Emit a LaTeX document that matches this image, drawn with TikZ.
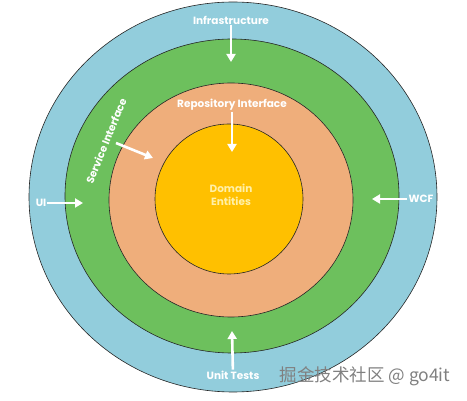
\documentclass[tikz,border=0pt]{standalone}
\usepackage{fontspec}
\setmainfont{Poppins}
\newfontfamily\cjkfont{Noto Sans CJK SC}
\usetikzlibrary{arrows.meta}
\definecolor{ringblue}{HTML}{92CDDC}
\definecolor{ringgreen}{HTML}{6DC05D}
\definecolor{ringorange}{HTML}{EFAE7B}
\definecolor{coreyellow}{HTML}{FFC000}
\definecolor{coretext}{HTML}{FFF0A8}

\begin{document}
\begin{tikzpicture}[x=1pt,y=-1pt,
  ring/.style={draw=black!85,line width=0.6pt},
  ringtext/.style={text=white,inner sep=1pt,font=\bfseries\fontsize{10.5}{12.5}\selectfont},
  whitearrow/.style={white,line width=2.6pt,-{Triangle[width=9pt,length=8pt]}}]
\useasboundingbox (0,0) rectangle (467,401);
\filldraw[ring,fill=ringblue] (233,197) ellipse [x radius=204,y radius=195];
\filldraw[ring,fill=ringgreen] (232,196) ellipse [x radius=167,y radius=157];
\filldraw[ring,fill=ringorange] (231,200) ellipse [x radius=122,y radius=117];
\filldraw[ring,fill=coreyellow] (229,199) ellipse [x radius=74,y radius=75];

\node[ringtext] (infra) at (231,20) {Infrastructure};
\node[ringtext] (repo) at (232,105) {Repository Interface};
\node[ringtext,rotate=68] (service) at (106,141) {Service Interface};
\node[ringtext] (ui) at (41,203) {UI};
\node[ringtext] (wcf) at (421,199) {WCF};
\node[ringtext] (tests) at (233,375) {Unit Tests};
\node[ringtext,text=coretext,align=center] (domain) at (231,195) {Domain\\Entities};

\coordinate (infra-tip) at (231,62);
\coordinate (repo-tip) at (232,152);
\coordinate (service-tip) at (153,158);
\coordinate (ui-tip) at (83,203);
\coordinate (wcf-tip) at (372,199);
\coordinate (tests-tip) at (232,331);

\draw[whitearrow] (infra) -- (infra-tip);
\draw[whitearrow] (repo) -- (repo-tip);
\draw[whitearrow] (116,143) -- (service-tip);
\draw[whitearrow] (ui) -- (ui-tip);
\draw[whitearrow] (wcf) -- (wcf-tip);
\draw[whitearrow] (tests) -- (tests-tip);

\node[text=black!50,font=\cjkfont\fontsize{17.5}{20}\selectfont] (mark) at (365,376) {掘金技术社区 @ go4it};
\end{tikzpicture}
\end{document}
